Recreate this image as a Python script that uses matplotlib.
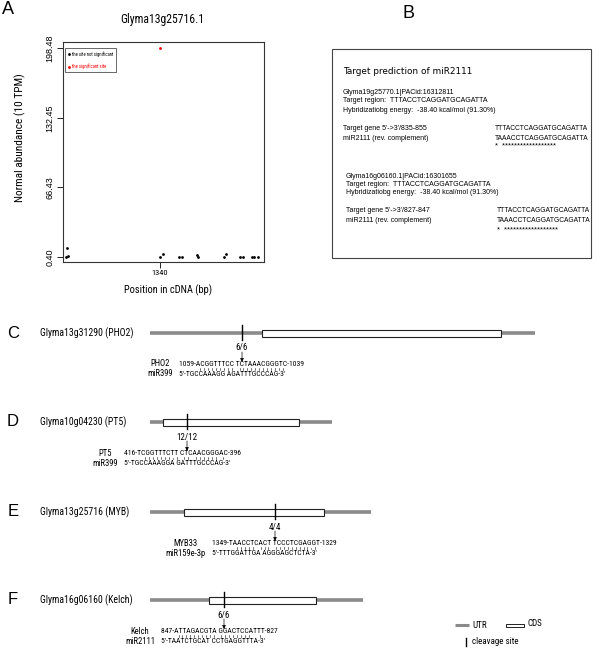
import matplotlib
matplotlib.use("Agg")
import matplotlib.pyplot as plt
from matplotlib import font_manager
from matplotlib.patches import Rectangle

# -------------------------
# fonts
# -------------------------
installed = {f.name for f in font_manager.fontManager.ttflist}


def pick(*names):
    for n in names:
        if n in installed:
            return n
    return "DejaVu Sans"


NARROW = pick("Liberation Sans Narrow", "Roboto Condensed", "Liberation Sans")
SANS = pick("Liberation Sans", "Arial", "DejaVu Sans")

# -------------------------
# panel A: degradome tags along Glyma13g25716.1
# -------------------------
a_title = "Glyma13g25716.1"
pos_ns = [0, 13, 35, 1340, 1380, 1615, 1660, 1860, 1885, 2255, 2275, 2480, 2515, 2655, 2680, 2730]
abund_ns = [0.7, 8.7, 1.7, 0.8, 3.2, 0.3, 0.3, 2.2, 0.7, 0.7, 3.0, 0.3, 0.8, 0.7, 0.3, 0.2]
pos_sig = [1340]
abund_sig = [198.48]
ytick_vals = [0.40, 66.43, 132.45, 198.48]
xtick_vals = [1340]

# -------------------------
# panel B: target prediction text
# -------------------------
b_title = "Target prediction of miR2111"
b_genes = ["Glyma19g25770.1|PACid:16312811", "Glyma16g06160.1|PACid:16301655"]
b_sites = ["835-855", "827-847"]
b_target = "TTTACCTCAGGATGCAGATTA"
b_mirna_rc = "TAAACCTCAGGATGCAGATTA"
b_energy = "-38.40 kcal/mol (91.30%)"

# -------------------------
# panels C-F: transcript structures and cleavage sites
# -------------------------
letters = ["C", "D", "E", "F"]
gene_ids = ["Glyma13g31290 (PHO2)", "Glyma10g04230 (PT5)", "Glyma13g25716 (MYB)", "Glyma16g06160 (Kelch)"]
utr5_len = [112, 13, 34, 59]
cds_len = [239, 136, 140, 107]
utr3_len = [34, 33, 47, 47]
cleave_at = [92, 37, 125, 74]
reads = ["6/6", "12/12", "4/4", "6/6"]
target_names = ["PHO2", "PT5", "MYB33", "Kelch"]
target_seqs = ["1059-ACGGTTTCC TCTAAACGGGTC-1039",
               "416-TCGGTTTCTT CTCAACGGGAC-396",
               "1349-TAACCTCACT TCCCTCGAGGT-1329",
               "847-ATTAGACGTA GGACTCCATTT-827"]
mirna_names = ["miR399", "miR399", "miR159e-3p", "miR2111"]
mirna_seqs = ["5'-TGCCAAAGG AGATTTGCCCAG-3'",
              "5'-TGCCAAAGGA GATTTGCCCAG-3'",
              "5'-TTTGGATTGA AGGGAGCTCTA-3'",
              "5'-TAATCTGCAT CCTGAGGTTTA-3'"]

UTR_COL = "#8a8a8a"
WC = {"AT", "TA", "GC", "CG"}
WOBBLE = {"GT", "TG"}

fig = plt.figure(figsize=(6.0, 6.51), dpi=100)
ax = fig.add_axes([0, 0, 1, 1])
ax.set_xlim(0, 600)
ax.set_ylim(651, 0)
ax.axis("off")

# ---- panel A
axA = fig.add_axes([63 / 600, 1 - 262 / 651, 201 / 600, 220 / 651])
axA.scatter(pos_ns, abund_ns, s=4, color="black", marker="o", linewidths=0,
            label="the site not significant")
axA.scatter(pos_sig, abund_sig, s=4, color="red", marker="o", linewidths=0,
            label="the significant site")
axA.set_xlim(-40, 2820)
axA.set_ylim(-4.4, 204.5)
axA.set_xticks(xtick_vals)
axA.set_xticklabels([str(v) for v in xtick_vals], fontsize=6, family=NARROW)
axA.set_yticks(ytick_vals)
axA.set_yticklabels([f"{v:.2f}" for v in ytick_vals], rotation=90, va="center",
                    fontsize=6.5, family=SANS)
axA.tick_params(length=4, width=0.6, pad=2)
for sp in axA.spines.values():
    sp.set_linewidth(0.8)
    sp.set_color("#333333")
leg = axA.legend(loc="upper left", bbox_to_anchor=(0.012, 0.972), borderaxespad=0,
                 prop={"size": 3.3, "family": NARROW}, handlelength=0.5, handletextpad=0.4,
                 labelspacing=1.4, borderpad=0.6, fancybox=False, edgecolor="#222222",
                 markerscale=1.0)
leg.get_frame().set_linewidth(0.6)
for txt, col in zip(leg.get_texts(), ["black", "red"]):
    txt.set_color(col)

ax.text(2, 10, "A", fontsize=13, family=SANS, ha="left", va="center")
ax.text(162, 20, a_title, fontsize=8.5, family=NARROW, ha="center", va="center")
ax.text(20, 138, "Normal abundance (10 TPM)", fontsize=8.2, family=NARROW, rotation=90,
        ha="center", va="center")
ax.text(168, 290, "Position in cDNA (bp)", fontsize=7.5, family=NARROW, ha="center", va="center")

# ---- panel B
ax.text(403, 14, "B", fontsize=13, family=SANS, ha="left", va="center")
ax.add_patch(Rectangle((332, 49), 259, 209, fill=False, ec="#444444", lw=0.8))
ax.text(343, 72, b_title, fontsize=6.4, family="DejaVu Sans", ha="left", va="center")
stars = "".join("*" if a == b else " " for a, b in zip(b_target, b_mirna_rc))
block_x = [343, 346]
block_y = [93, 176]
seq_x = [495, 497]
offs = [0, 8, 17, 35, 45, 54]
for j in range(2):
    x, y = block_x[j], block_y[j]
    lines = [b_genes[j], f"Target region:  {b_target}", f"Hybridizatiobg energy:  {b_energy}",
             f"Target gene 5'->3'/{b_sites[j]}", "miR2111 (rev. complement)"]
    for k, s in enumerate(lines):
        ax.text(x, y + offs[k], s, fontsize=5.0, family=SANS, ha="left", va="center")
    ax.text(seq_x[j], y + offs[3], b_target, fontsize=4.8, family=SANS, ha="left", va="center")
    ax.text(seq_x[j], y + offs[4], b_mirna_rc, fontsize=4.8, family=SANS, ha="left", va="center")
    ax.text(seq_x[j], y + offs[5], stars, fontsize=5.3, family=SANS, ha="left", va="center")

# ---- panels C-F
renderer = fig.canvas.get_renderer()
x0 = 150
row_y = [333, 422, 512, 600]
for i in range(4):
    y = row_y[i]
    s5 = x0 + utr5_len[i]
    s3 = s5 + cds_len[i]
    xe = s3 + utr3_len[i]
    cx = x0 + cleave_at[i]
    ax.text(13, y, letters[i], fontsize=12, family=SANS, ha="center", va="center")
    ax.text(40, y, gene_ids[i], fontsize=7, family=NARROW, ha="left", va="center")
    ax.plot([x0, xe], [y, y], color=UTR_COL, lw=2.6, solid_capstyle="butt", zorder=1)
    ax.add_patch(Rectangle((s5, y - 3.5), cds_len[i], 7, fc="white", ec="#222222",
                           lw=0.8, zorder=2))
    ax.plot([cx, cx], [y - 8, y + 7], color="black", lw=1.0, zorder=3)
    ax.text(cx, y + 15, reads[i], fontsize=6.5, family=NARROW, ha="center", va="center")
    ax.annotate("", xy=(cx, y + 29), xytext=(cx, y + 19),
                arrowprops=dict(arrowstyle="-|>", color="black", lw=0.5,
                                mutation_scale=5, shrinkA=0, shrinkB=0))
    sx = cx - 63
    t1 = ax.text(sx, y + 31, target_seqs[i], fontsize=5.5, family=NARROW, ha="left", va="center")
    ax.text(sx, y + 41, mirna_seqs[i], fontsize=5.5, family=NARROW, ha="left", va="center")
    ml = ax.text(sx - 6, y + 41, mirna_names[i], fontsize=6.2, family=NARROW, ha="right", va="center")
    mb = ml.get_window_extent(renderer)
    ax.text((mb.x0 + mb.x1) / 2, y + 31, target_names[i], fontsize=6.2, family=NARROW,
            ha="center", va="center")

    # base-pairing marks between target and miRNA
    tseq = target_seqs[i]
    p = tseq.index("-") + 1
    core_t = tseq[p:tseq.rindex("-")]
    core_m = mirna_seqs[i][3:-3]
    bb = t1.get_window_extent(renderer)
    n = len(tseq)
    for k, (a, b) in enumerate(zip(core_t, core_m)):
        pair = a + b
        if pair in WC:
            top = y + 34.5
        elif pair in WOBBLE:
            top = y + 35.8
        else:
            continue
        xm = bb.x0 + bb.width * (p + k + 0.5) / n
        ax.plot([xm, xm], [top, y + 37], color="black", lw=0.4)

# ---- structure legend
ax.plot([455, 469], [625, 625], color=UTR_COL, lw=2.2, solid_capstyle="butt")
ax.text(472, 625, "UTR", fontsize=6.5, family=NARROW, ha="left", va="center")
ax.add_patch(Rectangle((506, 623.5), 18, 3, fc="white", ec="#222222", lw=0.7))
ax.text(527, 624, "CDS", fontsize=6.5, family=NARROW, ha="left", va="center")
ax.plot([466, 466], [638, 646], color="black", lw=1.0)
ax.text(472, 642, "cleavage site", fontsize=6.5, family=NARROW, ha="left", va="center")

fig.savefig("out.png", dpi=100)
